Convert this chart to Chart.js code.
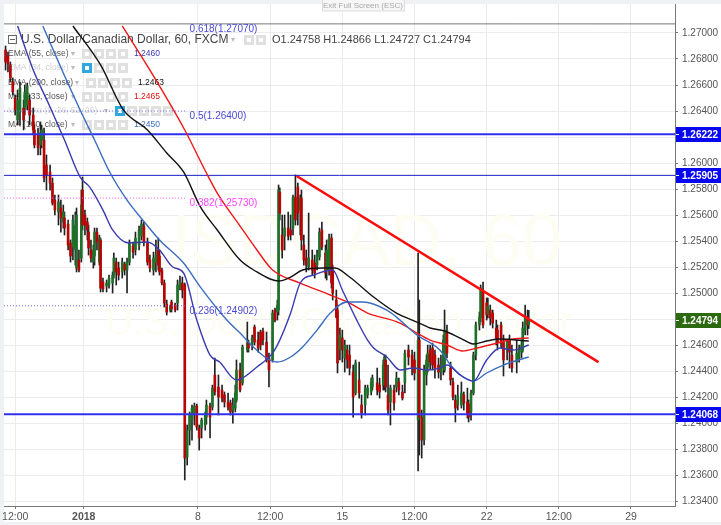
<!DOCTYPE html>
<html>
<head>
<meta charset="utf-8">
<title>USDCAD 60</title>
<script src="https://cdn.jsdelivr.net/npm/chart.js@4"></script>
<style>
  html, body { margin: 0; padding: 0; background: #eff1f5; }
  canvas { display: block; }
</style>
</head>
<body>
<canvas id="fxChart" width="721" height="525"></canvas>
<script>
// --- hourly bar number of each drawn candle ---
const candleBars = [0,2,4,6,8,10,12,15,16,18,20,23,24,27,29,30,32,34,37,39,41,44,46,48,49,52,54,56,58,59,61,63,64,66,68,69,71,73,74,76,78,79,81,84,86,89,90,92,94,97,99,101,103,106,108,111,113,115,118,120,123,125,127,128,130,132,134,137,138,141,143,145,147,149,151,153,155,157,159,161,163,166,167,170,172,174,177,180,182,185,187,189,191,192,195,197,201,202,205,207,210,212,214,217,219,222,224,226,227,228,230,232,235,237,239,241,243,245,246,248,250,252,255,257,259,261,263,266,267,269,271,272,275,276,278,280,282,284,286,289,291,294,296,299,301,304,305,309,311,314,315,316,318,320,323,325,327,330,332,335,338,340,343,344,346,348,350,351,353,355,357,360,362,364,365,367,370,372,374,376,379,381,384,385,387,389,391,394,395,397,400,401,403,405,408,409,412,414,417,419,421,425,427,429,430,432,434,435];

const opens = [1.26869,1.26823,1.26754,1.26623,1.26500,1.26331,1.26392,1.26423,1.26423,1.26446,1.26485,1.26369,1.26254,1.26216,1.26139,1.26177,1.26177,1.25985,1.25931,1.25846,1.25715,1.25623,1.25654,1.25546,1.25577,1.25531,1.25385,1.25354,1.25331,1.25192,1.25254,1.25269,1.25792,1.25600,1.25546,1.25469,1.25331,1.25238,1.25285,1.25469,1.25238,1.25408,1.25085,1.25054,1.25062,1.25077,1.25138,1.25238,1.25192,1.25162,1.25223,1.25177,1.25238,1.25362,1.25331,1.25369,1.25438,1.25515,1.25385,1.25254,1.25177,1.25238,1.25331,1.25285,1.25177,1.25077,1.24915,1.24869,1.24931,1.24908,1.24923,1.25038,1.25077,1.25062,1.23738,1.23946,1.24023,1.24069,1.24131,1.23962,1.23962,1.23985,1.24046,1.24131,1.24123,1.24369,1.24277,1.24254,1.24216,1.24162,1.24154,1.24100,1.24115,1.24177,1.24408,1.24308,1.24562,1.24615,1.24600,1.24738,1.24638,1.24700,1.24708,1.24623,1.24500,1.24485,1.24869,1.24854,1.24869,1.25777,1.25446,1.25438,1.25500,1.25485,1.25500,1.25738,1.25815,1.25638,1.25731,1.25369,1.25269,1.25200,1.25254,1.25231,1.25215,1.25277,1.25485,1.25308,1.25177,1.25177,1.25423,1.25177,1.24946,1.24869,1.24562,1.24654,1.24500,1.24562,1.24523,1.24392,1.24231,1.24331,1.24139,1.24139,1.24216,1.24239,1.24277,1.24308,1.24292,1.24292,1.24308,1.24485,1.24216,1.24162,1.24254,1.24277,1.24316,1.24239,1.24308,1.24562,1.24523,1.24485,1.24023,1.24638,1.24046,1.23869,1.24370,1.24431,1.24562,1.24577,1.24523,1.24446,1.24392,1.24423,1.24408,1.24700,1.24423,1.24316,1.24177,1.24139,1.24139,1.24216,1.24162,1.24146,1.24085,1.24231,1.24523,1.24754,1.24808,1.25008,1.24923,1.24838,1.24869,1.24846,1.24731,1.24715,1.24754,1.24623,1.24562,1.24638,1.24523,1.24469,1.24500,1.24546,1.24562,1.24715,1.24815,1.24758];

const highs = [1.26900,1.26854,1.26777,1.26654,1.26523,1.26562,1.26623,1.26485,1.26600,1.26615,1.26523,1.26423,1.26292,1.26269,1.26316,1.26292,1.26269,1.26062,1.25985,1.25885,1.25754,1.25754,1.25715,1.25677,1.25623,1.25562,1.25408,1.25600,1.25623,1.25654,1.25331,1.25792,1.25892,1.25638,1.25577,1.25523,1.25408,1.25369,1.25500,1.25500,1.25446,1.25423,1.25115,1.25100,1.25138,1.25162,1.25308,1.25269,1.25238,1.25269,1.25238,1.25269,1.25408,1.25392,1.25469,1.25515,1.25562,1.25546,1.25423,1.25292,1.25315,1.25408,1.25423,1.25331,1.25192,1.25100,1.24946,1.24908,1.24946,1.24923,1.25100,1.25131,1.25123,1.25077,1.23985,1.24085,1.24139,1.24154,1.24146,1.23985,1.24038,1.24085,1.24177,1.24154,1.24292,1.24500,1.24370,1.24292,1.24239,1.24231,1.24177,1.24192,1.24292,1.24485,1.24462,1.24600,1.24777,1.24638,1.24677,1.24754,1.24700,1.24715,1.24731,1.24700,1.24538,1.24869,1.24885,1.24946,1.25831,1.25808,1.25600,1.25600,1.25623,1.25600,1.25754,1.25908,1.25846,1.25754,1.25792,1.25446,1.25331,1.25615,1.25331,1.25292,1.25331,1.25500,1.25546,1.25369,1.25408,1.25454,1.25454,1.25215,1.25023,1.24908,1.24731,1.24715,1.24638,1.24600,1.24600,1.24446,1.24485,1.24469,1.24216,1.24292,1.24292,1.24346,1.24370,1.24423,1.24346,1.24485,1.24523,1.24523,1.24446,1.24292,1.24292,1.24392,1.24346,1.24292,1.24562,1.24600,1.24562,1.24546,1.25308,1.24946,1.24100,1.24446,1.24523,1.24600,1.24600,1.24615,1.24562,1.24500,1.24523,1.24677,1.24869,1.24754,1.24469,1.24346,1.24216,1.24292,1.24316,1.24239,1.24269,1.24177,1.24254,1.24546,1.24777,1.24854,1.25062,1.25085,1.24962,1.24962,1.24908,1.24869,1.24792,1.24754,1.24777,1.24677,1.24638,1.24677,1.24600,1.24638,1.24600,1.24638,1.24777,1.24908,1.24869,1.24866];

const lows = [1.26715,1.26700,1.26623,1.26523,1.26369,1.26292,1.26292,1.26254,1.26369,1.26408,1.26292,1.26216,1.26116,1.26062,1.26062,1.26116,1.25854,1.25792,1.25792,1.25677,1.25600,1.25523,1.25469,1.25500,1.25446,1.25331,1.25238,1.25254,1.25215,1.25162,1.25162,1.25238,1.25485,1.25446,1.25408,1.25292,1.25238,1.25192,1.25215,1.25331,1.25215,1.25008,1.25008,1.25008,1.25038,1.25000,1.25115,1.25062,1.25100,1.25115,1.25138,1.25000,1.25215,1.25269,1.25292,1.25331,1.25408,1.25362,1.25215,1.25162,1.25138,1.25162,1.25177,1.25138,1.25062,1.24892,1.24831,1.24854,1.24854,1.24854,1.24869,1.25023,1.24962,1.23562,1.23677,1.23831,1.23869,1.23985,1.23946,1.23792,1.23885,1.23946,1.23992,1.23885,1.24100,1.24215,1.24062,1.24162,1.24123,1.24100,1.24062,1.24000,1.24085,1.24162,1.24239,1.24292,1.24546,1.24546,1.24562,1.24600,1.24546,1.24562,1.24600,1.24469,1.24277,1.24469,1.24777,1.24792,1.24831,1.25562,1.25269,1.25331,1.25408,1.25408,1.25446,1.25523,1.25523,1.25446,1.25331,1.25215,1.25162,1.25177,1.25138,1.25115,1.25177,1.25254,1.25331,1.25115,1.25100,1.25138,1.25038,1.24946,1.24808,1.24385,1.24485,1.24469,1.24392,1.24423,1.24370,1.24046,1.24216,1.24192,1.24038,1.24062,1.24192,1.24216,1.24254,1.24216,1.24192,1.24254,1.24254,1.24239,1.24062,1.23985,1.24100,1.24239,1.24216,1.24177,1.24231,1.24446,1.24370,1.24331,1.23631,1.23754,1.23731,1.23831,1.24292,1.24392,1.24408,1.24408,1.24346,1.24346,1.24331,1.24370,1.24392,1.24500,1.24292,1.24177,1.24008,1.24100,1.24115,1.24100,1.24038,1.24008,1.24023,1.24216,1.24485,1.24715,1.24777,1.24731,1.24792,1.24808,1.24754,1.24731,1.24600,1.24562,1.24577,1.24362,1.24485,1.24423,1.24392,1.24385,1.24469,1.24500,1.24546,1.24677,1.24677,1.24727];

const closes = [1.26777,1.26762,1.26654,1.26546,1.26408,1.26485,1.26577,1.26331,1.26546,1.26592,1.26369,1.26254,1.26139,1.26116,1.26231,1.26254,1.25885,1.25908,1.25846,1.25692,1.25638,1.25700,1.25577,1.25623,1.25500,1.25369,1.25285,1.25562,1.25523,1.25600,1.25177,1.25677,1.25523,1.25523,1.25485,1.25346,1.25269,1.25331,1.25469,1.25392,1.25423,1.25038,1.25031,1.25077,1.25115,1.25138,1.25269,1.25162,1.25138,1.25238,1.25177,1.25238,1.25385,1.25315,1.25423,1.25485,1.25531,1.25392,1.25238,1.25192,1.25269,1.25292,1.25215,1.25162,1.25077,1.24923,1.24854,1.24900,1.24877,1.24869,1.25062,1.25085,1.25023,1.23731,1.23946,1.24069,1.24115,1.24131,1.23969,1.23885,1.24023,1.24062,1.24138,1.24046,1.24269,1.24239,1.24200,1.24192,1.24162,1.24123,1.24085,1.24138,1.24231,1.24408,1.24254,1.24585,1.24615,1.24577,1.24654,1.24623,1.24577,1.24600,1.24638,1.24485,1.24408,1.24846,1.24792,1.24908,1.25792,1.25615,1.25331,1.25500,1.25438,1.25446,1.25738,1.25562,1.25615,1.25731,1.25408,1.25254,1.25215,1.25269,1.25177,1.25154,1.25292,1.25469,1.25354,1.25154,1.25331,1.25423,1.25077,1.25000,1.24815,1.24462,1.24677,1.24562,1.24600,1.24485,1.24423,1.24200,1.24462,1.24231,1.24077,1.24269,1.24269,1.24316,1.24346,1.24254,1.24239,1.24446,1.24508,1.24277,1.24100,1.24269,1.24154,1.24346,1.24254,1.24192,1.24538,1.24508,1.24431,1.24385,1.24638,1.24046,1.23869,1.24408,1.24485,1.24538,1.24469,1.24446,1.24423,1.24392,1.24446,1.24638,1.24715,1.24538,1.24331,1.24200,1.24115,1.24208,1.24231,1.24154,1.24069,1.24046,1.24231,1.24523,1.24754,1.24815,1.25038,1.24754,1.24831,1.24900,1.24808,1.24769,1.24654,1.24623,1.24615,1.24485,1.24623,1.24546,1.24423,1.24538,1.24562,1.24600,1.24731,1.24815,1.24754,1.24794];

// --- moving averages ---
const ema55Bars = [10,23,37,49,62,70,81,89,102,118,128,139,148,159,170,178,192,209,222,228,237,245,256,272,280,292,301,306,317,328,339,350,361,367,378,389,400,411,422,435];
const ema55Vals = [1.27054,1.26715,1.26431,1.26177,1.25892,1.25815,1.25638,1.25485,1.25385,1.25392,1.25331,1.25200,1.25154,1.24792,1.24523,1.24469,1.24331,1.24431,1.24538,1.24638,1.24846,1.25077,1.25138,1.25177,1.25023,1.24792,1.24638,1.24577,1.24508,1.24408,1.24423,1.24408,1.24423,1.24446,1.24370,1.24323,1.24485,1.24577,1.24562,1.24600];
const ma100Bars = [31,48,62,74,87,101,114,128,148,162,184,195,206,217,226,237,247,259,270,284,297,317,325,342,361,370,378,389,400,414,435];
const ma100Vals = [1.27054,1.26692,1.26408,1.26177,1.25923,1.25715,1.25562,1.25408,1.25231,1.25046,1.24792,1.24692,1.24585,1.24500,1.24469,1.24508,1.24585,1.24715,1.24846,1.24931,1.24931,1.24869,1.24815,1.24677,1.24562,1.24446,1.24370,1.24323,1.24385,1.24446,1.24508];
const ema200Bars = [56,79,98,118,134,148,162,176,195,209,220,227,237,247,264,274,286,306,325,342,353,365,378,389,400,411,435];
const ema200Vals = [1.27054,1.26754,1.26408,1.26254,1.26077,1.25931,1.25662,1.25485,1.25254,1.25162,1.25108,1.25092,1.25123,1.25177,1.25192,1.25192,1.25123,1.24969,1.24846,1.24777,1.24731,1.24708,1.24654,1.24608,1.24631,1.24646,1.24631];
const ma233Bars = [97,120,149,167,176,195,209,222,245,270,286,301,328,342,353,367,380,392,409,422,435];
const ma233Vals = [1.27054,1.26715,1.26254,1.25923,1.25769,1.25515,1.25331,1.25177,1.25077,1.24985,1.24923,1.24846,1.24769,1.24692,1.24638,1.24600,1.24554,1.24577,1.24615,1.24646,1.24654];

// --- drawing tools ---
const trendBars = [242, 493];
const trendVals = [1.25900, 1.24469];
const levelVals = [1.26222, 1.25905, 1.24068];
const fibVals = [1.27070, 1.26400, 1.25730, 1.24902];
const fibLabels = ['0.618(1.27070)', '0.5(1.26400)', '0.382(1.25730)', '0.236(1.24902)'];
const lastPrice = 1.24794;

// --- axis ticks ---
const yTicks = [1.27,1.268,1.266,1.264,1.262,1.26,1.258,1.256,1.254,1.252,1.25,1.248,1.246,1.244,1.242,1.24,1.238,1.236,1.234];
const xTickBars = [8, 65, 160, 220, 280, 340, 400, 460, 520];
const xTickLabels = ['12:00', '2018', '8', '12:00', '15', '12:00', '22', '12:00', '29'];

const FONT = "'Liberation Sans', Arial, sans-serif";
const xMin = -1.3, xMax = 556.6, yMin = 1.23362, yMax = 1.27223;
const fibEnd = 150, fibLabelBar = 153;

const upColor = '#1f7029', downColor = '#b80404', wickColor = '#222';

function lineSet(xs, ys, color, width, dash) {
    return {
        type: 'line',
        data: xs.map((x, i) => ({ x: x, y: ys[i] })),
        borderColor: color,
        borderWidth: width,
        borderDash: dash || [],
        pointRadius: 0,
        cubicInterpolationMode: 'monotone',
        order: 1
    };
}

function drawIcons(c, x, y, n, eye) {
    for (let i = 0; i < n; i++) {
        const px = x + i * 12;
        c.fillStyle = (eye && i === 0) ? '#2ea8dd' : '#e0e0e0';
        c.fillRect(px, y - 5, 10, 10);
        c.fillStyle = '#fff';
        c.fillRect(px + 3, y - 2, 4, 4);
    }
}

function legendRow(c, name, y, nameColor, iconX, n, eye, val, valX, valColor) {
    c.font = '8.5px ' + FONT;
    c.fillStyle = nameColor;
    c.textAlign = 'left';
    c.textBaseline = 'middle';
    c.fillText(name, 8, y);
    c.fillStyle = '#bbb';
    c.font = '8px ' + FONT;
    c.fillText('\u25BE', iconX - 11, y);
    drawIcons(c, iconX, y, n, eye);
    if (val) {
        c.font = '8.5px ' + FONT;
        c.fillStyle = valColor;
        c.fillText(val, valX, y);
    }
}

const fxPlugin = {
    id: 'fxDecor',
    beforeDraw(chart) {
        const c = chart.ctx;
        c.save();
        c.fillStyle = '#fff';
        c.fillRect(4, 4, 717, 518);
        c.restore();
    },
    beforeDatasetsDraw(chart) {
        const c = chart.ctx;
        c.save();
        // watermark
        c.fillStyle = '#fefdf4';
        c.textAlign = 'center';
        c.textBaseline = 'alphabetic';
        c.font = '72px ' + FONT;
        c.fillText('USDCAD, 60', 350, 265);
        c.font = '38px ' + FONT;
        c.fillText('U.S. Dollar/Canadian Dollar', 339, 335);

        // collapse box + title, the indicator lines run over them
        c.textAlign = 'left';
        c.textBaseline = 'middle';
        c.strokeStyle = '#666';
        c.strokeRect(8.5, 35.5, 8, 8);
        c.beginPath(); c.moveTo(10, 39.5); c.lineTo(15, 39.5); c.stroke();
        c.fillStyle = '#444';
        c.font = '12px ' + FONT;
        c.fillText('U.S. Dollar/Canadian Dollar, 60, FXCM', 21, 40);
        c.fillStyle = '#bbb';
        c.font = '8px ' + FONT;
        c.fillText('\u25BE', 231, 40);
        drawIcons(c, 244, 40, 2, false);
        c.fillStyle = '#444';
        c.font = '11px ' + FONT;
        c.fillText('O1.24758 H1.24866 L1.24727 C1.24794', 272, 40);

        legendRow(c, 'EMA (55, close)', 54, '#555', 82, 4, false, '1.2460', 134, '#3a3ab4');
        legendRow(c, 'EMA (34, close)', 68, '#cfcfcf', 82, 4, true);
        legendRow(c, 'EMA (200, close)', 83, '#555', 86, 4, false, '1.2463', 138, '#111');
        legendRow(c, 'MA (233, close)', 97, '#555', 82, 4, false, '1.2465', 134, '#e01010');
        legendRow(c, 'Ichimoku (9, 26, 52, 26)', 111, '#d5d5d5', 115, 5, true);
        legendRow(c, 'MA (100, close)', 125, '#555', 82, 4, false, '1.2450', 134, '#3a6fc0');
        c.restore();
    },
    afterDatasetsDraw(chart) {
        const c = chart.ctx, xs = chart.scales.x, ys = chart.scales.y;
        c.save();
        // fibonacci labels
        const fibColors = ['#4a4ad8', '#4a4ad8', '#ff44ff', '#4a4ad8'];
        c.font = '10px ' + FONT;
        c.textAlign = 'left';
        c.textBaseline = 'middle';
        fibLabels.forEach((t, i) => {
            c.fillStyle = fibColors[i];
            c.fillText(t, xs.getPixelForValue(fibLabelBar), ys.getPixelForValue(fibVals[i]) + 5);
        });

        // exit full screen hint
        c.fillStyle = '#f6f6f6';
        c.fillRect(322, 0, 83, 11);
        c.strokeStyle = '#ddd';
        c.strokeRect(322.5, -1, 82, 12);
        c.fillStyle = '#aaa';
        c.font = '8px ' + FONT;
        c.textAlign = 'center';
        c.fillText('Exit Full Screen (ESC)', 363, 5.5);
        c.restore();
    },
    afterDraw(chart) {
        const c = chart.ctx, ys = chart.scales.y;
        c.save();
        const tag = (v, color) => {
            const y = ys.getPixelForValue(v);
            c.fillStyle = color;
            c.fillRect(676, Math.round(y) - 7, 45, 15);
            c.fillStyle = '#fff';
            c.fillRect(676, Math.round(y), 3, 1);
            c.font = 'bold 10px ' + FONT;
            c.textAlign = 'left';
            c.textBaseline = 'middle';
            c.fillText(v.toFixed(5), 682, Math.round(y) + 1);
        };
        levelVals.forEach(v => tag(v, '#0808f0'));
        tag(lastPrice, '#2c6a10');
        c.restore();
    }
};

function noEdgePadding(scale) {
    scale.paddingLeft = 0;
    scale.paddingRight = 0;
    scale.paddingTop = 0;
    scale.paddingBottom = 0;
}

new Chart(document.getElementById('fxChart').getContext('2d'), {
    type: 'bar',
    data: {
        datasets: [
            // moving averages
            lineSet(ema55Bars, ema55Vals, '#3b3bb0', 1.4),
            lineSet(ma100Bars, ma100Vals, '#3a6cc0', 1.4),
            lineSet(ema200Bars, ema200Vals, '#111111', 1.4),
            lineSet(ma233Bars, ma233Vals, '#f01818', 1.4),
            // horizontal levels
            lineSet([xMin, xMax], [levelVals[0], levelVals[0]], '#3030f0', 2),
            lineSet([xMin, xMax], [levelVals[1], levelVals[1]], '#1c1cc8', 1),
            lineSet([xMin, xMax], [levelVals[2], levelVals[2]], '#3030f0', 2),
            // fibonacci retracement
            lineSet([xMin, xMax], [fibVals[0], fibVals[0]], '#777777', 1),
            lineSet([xMin, fibEnd], [fibVals[1], fibVals[1]], '#7070e0', 1, [1, 2]),
            lineSet([xMin, fibEnd], [fibVals[2], fibVals[2]], '#ff66ff', 1, [1, 2]),
            lineSet([xMin, fibEnd], [fibVals[3], fibVals[3]], '#7070e0', 1, [1, 2]),
            // trend line
            lineSet(trendBars, trendVals, '#ff0a0a', 2.5),
            // candles
            {
                label: 'body',
                data: candleBars.map((b, i) => ({ x: b, y: [opens[i], closes[i]] })),
                backgroundColor: candleBars.map((b, i) => closes[i] >= opens[i] ? upColor : downColor),
                barThickness: 2,
                grouped: false,
                order: 2
            },
            {
                label: 'wick',
                data: candleBars.map((b, i) => ({ x: b, y: [lows[i], highs[i]] })),
                backgroundColor: wickColor,
                barThickness: 1,
                grouped: false,
                order: 3
            }
        ]
    },
    options: {
        responsive: false,
        animation: false,
        events: [],
        layout: { padding: { left: 4, top: 4, right: 0, bottom: 0 } },
        plugins: { legend: { display: false }, tooltip: { enabled: false } },
        scales: {
            x: {
                type: 'linear',
                min: xMin,
                max: xMax,
                offset: false,
                afterBuildTicks: scale => { scale.ticks = xTickBars.map(v => ({ value: v })); },
                afterFit: scale => { scale.height = 19; noEdgePadding(scale); },
                grid: { offset: false, color: '#ececec', tickColor: '#777', tickLength: 3, drawTicks: true },
                border: { color: '#777' },
                ticks: {
                    autoSkip: false,
                    maxRotation: 0,
                    padding: 2,
                    color: '#555',
                    font: ctx => ({ family: FONT, size: 10.5, weight: ctx.tick && ctx.tick.value === 65 ? 'bold' : 'normal' }),
                    callback: v => xTickLabels[xTickBars.indexOf(v)]
                }
            },
            y: {
                position: 'right',
                min: yMin,
                max: yMax,
                afterBuildTicks: scale => { scale.ticks = yTicks.map(v => ({ value: v })); },
                afterFit: scale => { scale.width = 46; noEdgePadding(scale); },
                grid: { color: '#ececec', tickColor: '#777', tickLength: 3 },
                border: { color: '#777' },
                ticks: {
                    autoSkip: false,
                    padding: 4,
                    color: '#555',
                    font: { family: FONT, size: 10 },
                    callback: v => v.toFixed(5)
                }
            }
        }
    },
    plugins: [fxPlugin]
});
</script>
</body>
</html>
